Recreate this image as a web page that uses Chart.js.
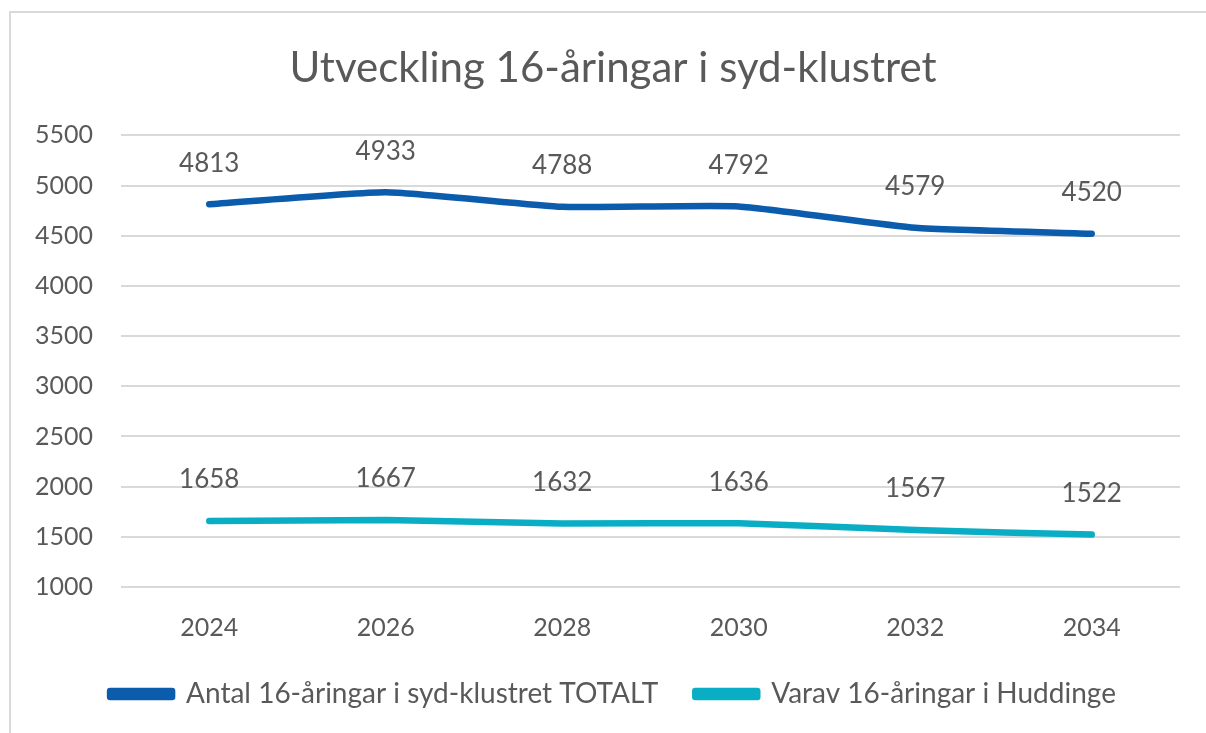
<!DOCTYPE html>
<html>
<head>
<meta charset="utf-8">
<script src="https://cdn.jsdelivr.net/npm/chart.js@4/dist/chart.umd.min.js"></script>
<style>
  html, body { margin: 0; padding: 0; background: #fff; }
  #wrap { width: 1206px; height: 733px; position: relative; }
</style>
</head>
<body>
<div id="wrap"><canvas id="chart"></canvas></div>
<script>
// data
const years = ['2024', '2026', '2028', '2030', '2032', '2034'];
const totalt = [4813, 4933, 4788, 4792, 4579, 4520];
const huddinge = [1658, 1667, 1632, 1636, 1567, 1522];
const seriesNames = ['Antal 16-åringar i syd-klustret TOTALT', 'Varav 16-åringar i Huddinge'];
const titleText = 'Utveckling 16-åringar i syd-klustret';

const FONT = 'Lato, "Liberation Sans", sans-serif';
const GREY = '#595959';

// ram runt diagrammet
const borderPlugin = {
  id: 'frame',
  beforeDraw(chart) {
    const c = chart.ctx;
    c.save();
    c.strokeStyle = '#d9d9d9';
    c.lineWidth = 2;
    c.strokeRect(10, 12, chart.width + 20, chart.height + 20);
    c.restore();
  }
};

// titel och förklaring ligger lite till höger om mitten i originalet
const shiftPlugin = {
  id: 'shiftBoxes',
  afterLayout(chart) {
    [chart.titleBlock, chart.legend].forEach(b => {
      if (!b) return;
      b.left += 18;
      b.right += 18;
    });
  }
};

// värden ovanför punkterna
const labelPlugin = {
  id: 'pointLabels',
  afterDatasetsDraw(chart) {
    const c = chart.ctx;
    c.save();
    c.font = '26px ' + FONT;
    c.fillStyle = GREY;
    c.textAlign = 'center';
    c.textBaseline = 'middle';
    chart.data.datasets.forEach((ds, i) => {
      chart.getDatasetMeta(i).data.forEach((pt, j) => {
        c.fillText(String(ds.data[j]), pt.x, pt.y - 41);
      });
    });
    c.restore();
  }
};

new Chart(document.getElementById('chart'), {
  type: 'line',
  data: {
    labels: years,
    datasets: [
      {
        label: seriesNames[0],
        data: totalt,
        borderColor: '#0b5cad',
        backgroundColor: '#0b5cad',
        borderWidth: 6.5,
        tension: 0.15,
        pointRadius: 0,
        borderCapStyle: 'round',
        borderJoinStyle: 'round'
      },
      {
        label: seriesNames[1],
        data: huddinge,
        borderColor: '#0aaec4',
        backgroundColor: '#0aaec4',
        borderWidth: 6.5,
        tension: 0.15,
        pointRadius: 0,
        borderCapStyle: 'round',
        borderJoinStyle: 'round'
      }
    ]
  },
  options: {
    responsive: true,
    maintainAspectRatio: false,
    animation: false,
    layout: { padding: { left: 10, right: 26, top: 12, bottom: 15 } },
    plugins: {
      title: {
        display: true,
        text: titleText,
        color: GREY,
        font: { family: FONT, size: 42, weight: 'normal' },
        padding: { top: 31, bottom: 42 }
      },
      legend: {
        position: 'bottom',
        labels: {
          color: GREY,
          font: { family: FONT, size: 28 },
          boxWidth: 62,
          boxHeight: 6,
          padding: 37
        }
      },
      tooltip: { enabled: false }
    },
    scales: {
      x: {
        offset: true,
        grid: { display: false, drawTicks: false },
        border: { display: false },
        ticks: { color: GREY, font: { family: FONT, size: 25 }, padding: 26 },
        afterFit(scale) { scale.height = 56; }
      },
      y: {
        min: 1000,
        max: 5500,
        grid: { color: '#d9d9d9', lineWidth: 2, drawTicks: false },
        border: { display: false },
        ticks: {
          stepSize: 500,
          color: GREY,
          font: { family: FONT, size: 25 },
          padding: 28,
          callback: v => String(v)
        },
        afterFit(scale) { scale.width = 111; }
      }
    }
  },
  plugins: [borderPlugin, shiftPlugin, labelPlugin]
});
</script>
</body>
</html>
